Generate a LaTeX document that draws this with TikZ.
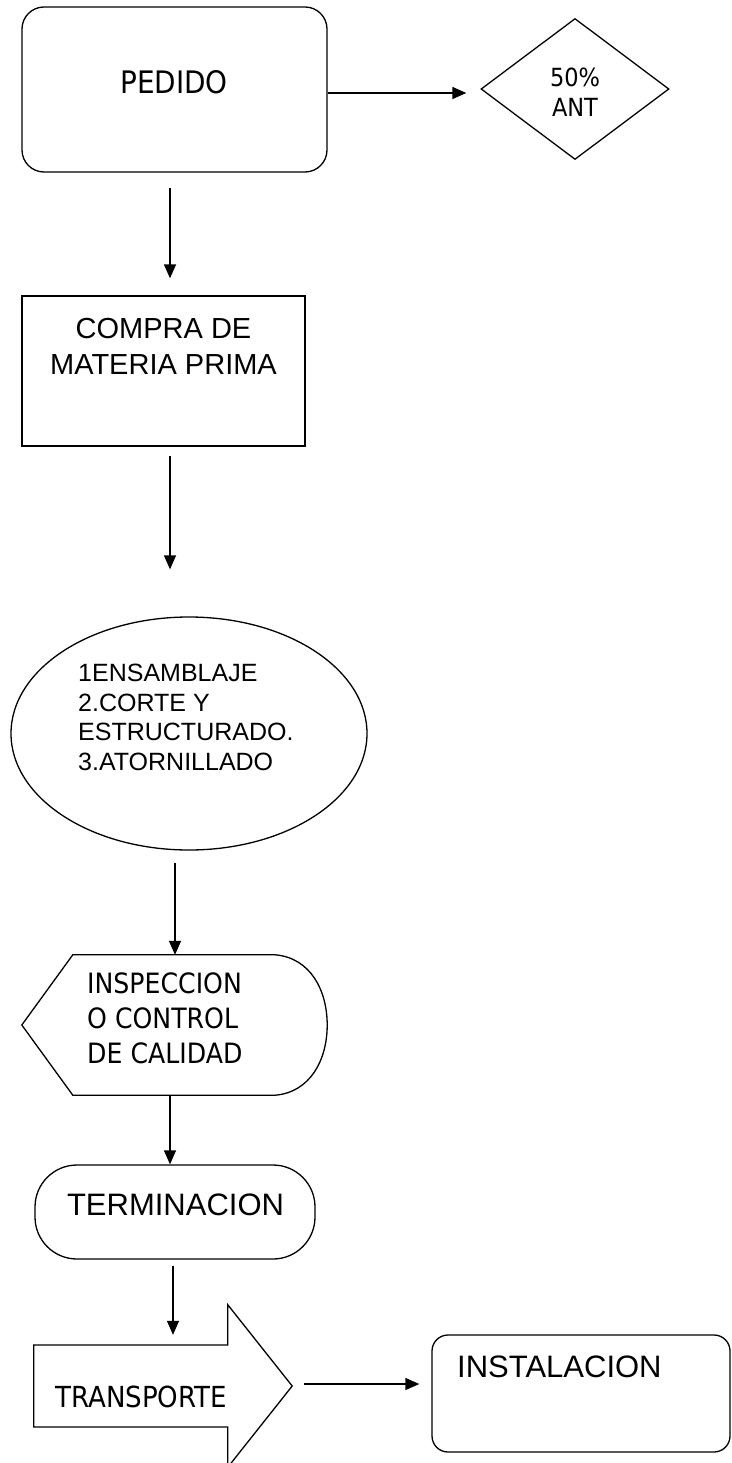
\documentclass[tikz,border=0pt]{standalone}
\usepackage{fontspec}
\setmainfont{Liberation Sans}
\newfontfamily\tah[FakeStretch=0.9]{DejaVu Sans}
\usetikzlibrary{arrows.meta,shapes.geometric,calc}
\tikzset{
  box/.style={draw, line width=1.3pt, inner sep=0pt},
  ghost/.style={inner sep=0pt},
  outline/.style={draw, line width=1.3pt},
  arr/.style={line width=1.3pt, -{Triangle[length=14pt,width=12pt]}},
  txt/.style={inner sep=0pt, align=center},
  txtl/.style={inner sep=0pt, align=left, anchor=west}
}
\begin{document}
\begin{tikzpicture}[x=1pt,y=-1pt]
\useasboundingbox (0,0) rectangle (731,1463);
% PEDIDO
\node[box, rounded corners=22pt, minimum width=305pt, minimum height=165pt] (pedido) at (174.5,89.5) {};
\node[txt, font=\tah\fontsize{31}{37}\selectfont] (pedidot) at (174,82) {PEDIDO};
% 50% ANT
\node[box, diamond, minimum width=188pt, minimum height=141pt] (ant) at (575,89) {};
\node[txt, font=\tah\fontsize{25}{30}\selectfont] (antt) at (575,92) {50\%\\ANT};
\draw[arr] ($(pedido.east)+(0,3.5)$) -- ($(ant.west)+(-14,4)$);
% COMPRA
\node[box, minimum width=283pt, minimum height=150pt] (compra) at (163.5,371) {};
\node[txt, font=\fontsize{29}{36.7}\selectfont] (comprat) at (163.5,346.5) {COMPRA DE\\MATERIA PRIMA};
\draw[arr] ($(pedido.south)+(-4.5,15)$) -- ($(compra.north)+(6.5,-17)$);
% ELLIPSE
\node[box, ellipse, minimum width=356pt, minimum height=233pt] (proc) at (189,733.5) {};
\node[txtl, font=\fontsize{25}{29.7}\selectfont] (proct) at (78,717.5) {1ENSAMBLAJE\\2.CORTE Y\\ESTRUCTURADO.\\3.ATORNILLADO};
\draw[arr] ($(compra.south)+(6.5,9)$) -- ($(proc.north)+(-19,-47)$);
% INSPECCION (display shape)
\node[ghost, minimum width=305pt, minimum height=140pt] (insp) at (174.5,1025) {};
\draw[outline] (insp.west) -- ($(insp.north west)+(51,0)$) -- ($(insp.north east)+(-52,0)$)
  .. controls ($(insp.north east)+(-17,3)$) and ($(insp.east)+(0,-35)$) .. (insp.east)
  .. controls ($(insp.east)+(0,35)$) and ($(insp.south east)+(-17,-3)$) .. ($(insp.south east)+(-52,0)$)
  -- ($(insp.south west)+(51,0)$) -- cycle;
\node[txtl, font=\tah\fontsize{28}{35}\selectfont] (inspt) at (87,1018) {INSPECCION\\O CONTROL\\DE CALIDAD};
\draw[arr] ($(proc.south)+(-14,12)$) -- ($(insp.north)+(0.5,0)$);
% TERMINACION
\node[box, rounded corners=42pt, minimum width=280pt, minimum height=94pt] (term) at (175,1212) {};
\node[txt, font=\fontsize{31}{37}\selectfont] (termt) at (175.5,1205) {TERMINACION};
\draw[arr] ($(insp.south)+(-4.5,0)$) -- ($(term.north)+(-5,0)$);
% TRANSPORTE (block arrow)
\node[ghost, minimum width=258pt, minimum height=162pt] (trans) at (163,1386) {};
\draw[outline] ($(trans.west)+(0,-41)$) -- ($(trans.west)+(194,-41)$) -- ($(trans.north west)+(194,0)$)
  -- (trans.east) -- ($(trans.south west)+(194,0)$) -- ($(trans.west)+(194,41)$)
  -- ($(trans.west)+(0,41)$) -- cycle;
\node[txtl, font=\tah\fontsize{29}{35}\selectfont] (transt) at (55,1397) {TRANSPORTE};
\draw[arr] ($(term.south)+(-2,6)$) -- ($(trans.north)+(10,30)$);
% INSTALACION
\node[box, rounded corners=16pt, minimum width=298pt, minimum height=117pt] (inst) at (581,1393.5) {};
\node[txtl, font=\fontsize{31}{37}\selectfont] (instt) at (457,1367) {INSTALACION};
\draw[arr] ($(trans.east)+(12,-2)$) -- ($(inst.west)+(-12,-9.5)$);
\end{tikzpicture}
\end{document}
